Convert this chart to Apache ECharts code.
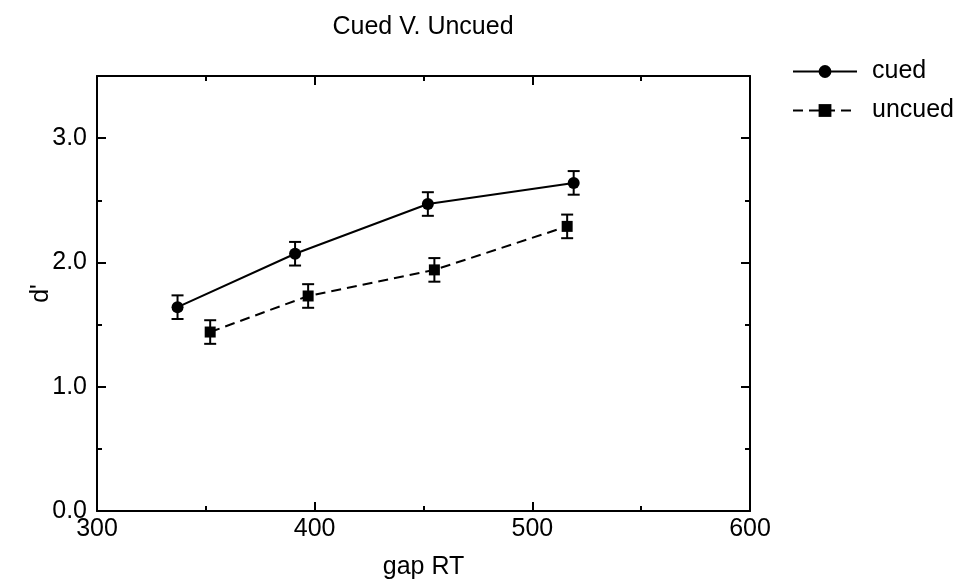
<!DOCTYPE html>
<html>
<head>
<meta charset="utf-8">
<script src="https://cdn.jsdelivr.net/npm/echarts@6/dist/echarts.min.js"></script>
<style>
html,body{margin:0;padding:0;background:#fff;}
#chart{width:958px;height:582px;}
</style>
</head>
<body>
<div id="chart"></div>
<script>
// ---- data ----
const titleText = 'Cued V. Uncued';
const xAxisName = 'gap RT';
const yAxisName = "d'";
const seriesNames = ['cued', 'uncued'];
const cuedX = [337, 391, 452, 519];
const cuedY = [1.64, 2.07, 2.47, 2.64];
const cuedErr = [0.095, 0.095, 0.095, 0.095];
const uncuedX = [352, 397, 455, 516];
const uncuedY = [1.44, 1.73, 1.94, 2.29];
const uncuedErr = [0.095, 0.095, 0.095, 0.095];
const xMin = 300, xMax = 600, xStep = 100;
const yMin = 0, yMax = 3.5, yStep = 1;

const FONT = '"Liberation Sans", Arial, Helvetica, sans-serif';
const FS = 25;

function pts(xs, ys) { return xs.map((x, i) => [x, ys[i]]); }
function errs(xs, ys, es) { return xs.map((x, i) => [x, ys[i] - es[i], ys[i] + es[i]]); }

function renderErr(params, api) {
  const x = api.value(0), lo = api.value(1), hi = api.value(2);
  const a = api.coord([x, hi]), b = api.coord([x, lo]);
  const w = 6;
  const st = { stroke: '#000', lineWidth: 2 };
  return {
    type: 'group',
    children: [
      { type: 'line', shape: { x1: a[0], y1: a[1], x2: b[0], y2: b[1] }, style: st },
      { type: 'line', shape: { x1: a[0] - w, y1: a[1], x2: a[0] + w, y2: a[1] }, style: st },
      { type: 'line', shape: { x1: b[0] - w, y1: b[1], x2: b[0] + w, y2: b[1] }, style: st }
    ]
  };
}

const tickCommon = {
  axisLine: { show: true, onZero: false, lineStyle: { color: '#000', width: 2 } },
  axisTick: { show: true, inside: true, length: 9, lineStyle: { color: '#000', width: 2 } },
  minorTick: { show: true, splitNumber: 2, length: 5, lineStyle: { color: '#000', width: 2 } },
  splitLine: { show: false },
  minorSplitLine: { show: false }
};

const chart = echarts.init(document.getElementById('chart'), null, { renderer: 'canvas' });
chart.setOption({
  backgroundColor: '#fff',
  animation: false,
  graphic: [{
    type: 'text', x: 423, y: 27,
    style: {
      text: titleText, fill: '#000', font: FS + 'px ' + FONT,
      textAlign: 'center', textVerticalAlign: 'middle'
    }
  }],
  legend: {
    orient: 'vertical',
    left: 787, top: 54,
    itemWidth: 64, itemHeight: 16, itemGap: 14,
    data: seriesNames,
    textStyle: { fontFamily: FONT, fontSize: FS, lineHeight: 25, color: '#000', padding: [0, 0, 0, 10] }
  },
  grid: { left: 97, right: 208, top: 76, bottom: 71, outerBoundsMode: 'none', containLabel: false },
  xAxis: [
    Object.assign({
      type: 'value', position: 'bottom', min: xMin, max: xMax, interval: xStep,
      name: xAxisName, nameLocation: 'middle', nameGap: 44, nameMoveOverlap: false,
      nameTextStyle: { fontFamily: FONT, fontSize: FS, color: '#000' },
      axisLabel: { fontFamily: FONT, fontSize: FS, color: '#000', margin: 6 }
    }, tickCommon),
    Object.assign({
      type: 'value', position: 'top', min: xMin, max: xMax, interval: xStep,
      axisLabel: { show: false }
    }, tickCommon)
  ],
  yAxis: [
    Object.assign({
      type: 'value', position: 'left', min: yMin, max: yMax, interval: yStep,
      name: yAxisName, nameLocation: 'middle', nameGap: 43, nameRotate: 90, nameMoveOverlap: false,
      nameTextStyle: { fontFamily: FONT, fontSize: FS, color: '#000' },
      axisLabel: {
        fontFamily: FONT, fontSize: FS, color: '#000', margin: 10,
        formatter: v => (Math.abs(v - Math.round(v)) < 1e-9 ? v.toFixed(1) : '')
      }
    }, tickCommon),
    Object.assign({
      type: 'value', position: 'right', min: yMin, max: yMax, interval: yStep,
      axisLabel: { show: false }
    }, tickCommon)
  ],
  series: [
    {
      name: seriesNames[0], type: 'line', data: pts(cuedX, cuedY),
      symbol: 'circle', symbolSize: 12,
      itemStyle: { color: '#000' },
      lineStyle: { color: '#000', width: 2, type: 'solid' },
      z: 5
    },
    {
      name: seriesNames[1], type: 'line', data: pts(uncuedX, uncuedY),
      symbol: 'rect', symbolSize: 11,
      itemStyle: { color: '#000' },
      lineStyle: { color: '#000', width: 2, type: [10, 6] },
      z: 5
    },
    {
      type: 'custom', renderItem: renderErr, data: errs(cuedX, cuedY, cuedErr),
      encode: { x: 0, y: [1, 2] }, z: 4, silent: true
    },
    {
      type: 'custom', renderItem: renderErr, data: errs(uncuedX, uncuedY, uncuedErr),
      encode: { x: 0, y: [1, 2] }, z: 4, silent: true
    }
  ]
});
</script>
</body>
</html>
